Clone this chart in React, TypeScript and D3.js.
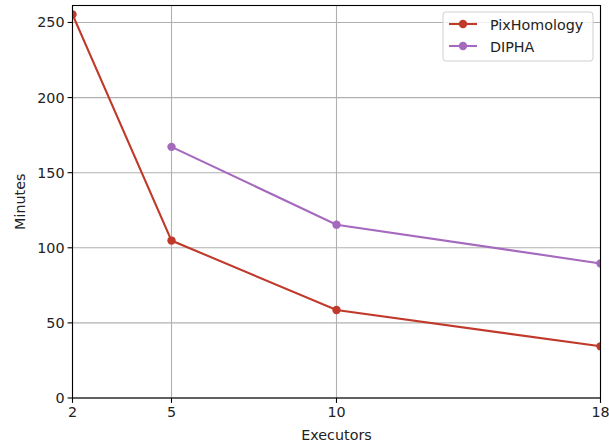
import React from "react";
import * as d3 from "d3";

const executors = [2, 5, 10, 18];
const pixHomology = [255.3, 104.8, 58.6, 34.4];
const diphaX = [5, 10, 18];
const dipha = [167.2, 115.4, 89.6];
const yTicks = [0, 50, 100, 150, 200, 250];
const seriesNames = ["PixHomology", "DIPHA"];
const colors = ["#c0392b", "#a569bd"];

const W = 609, H = 444;
const m = { left: 72.5, right: 600.5, top: 5.5, bottom: 398 };
const FONT = "DejaVu Sans, sans-serif";
const FS = 14.3;

export default function App() {
  const x = d3.scaleLinear().domain([2, 18]).range([m.left, m.right]);
  const y = d3.scaleLinear().domain([0, 261.3]).range([m.bottom, m.top]);
  const line = d3.line<[number, number]>().x(d => x(d[0])).y(d => y(d[1]));
  const s1: [number, number][] = executors.map((e, i) => [e, pixHomology[i]]);
  const s2: [number, number][] = diphaX.map((e, i) => [e, dipha[i]]);
  const series = [s1, s2];
  const lx = 443, ly = 12, lw = 150, lh = 49;
  return (
    <svg width={W} height={H} style={{ position: "absolute", left: 0, top: 0 }} fontFamily={FONT}>
      <defs>
        <clipPath id="clip">
          <rect x={m.left} y={m.top} width={m.right - m.left} height={m.bottom - m.top} />
        </clipPath>
      </defs>
      <rect x={0} y={0} width={W} height={H} fill="white" />
      {executors.map(t => (
        <line key={"gx" + t} x1={x(t)} x2={x(t)} y1={m.top} y2={m.bottom} stroke="#b0b0b0" strokeWidth={1.1} />
      ))}
      {yTicks.map(t => (
        <line key={"gy" + t} x1={m.left} x2={m.right} y1={y(t)} y2={y(t)} stroke="#b0b0b0" strokeWidth={1.1} />
      ))}
      <g clipPath="url(#clip)">
        {series.map((s, i) => (
          <g key={i}>
            <path d={line(s) || ""} fill="none" stroke={colors[i]} strokeWidth={2.08} />
            {s.map((p, j) => (
              <circle key={j} cx={x(p[0])} cy={y(p[1])} r={4.2} fill={colors[i]} />
            ))}
          </g>
        ))}
      </g>
      <rect x={m.left} y={m.top} width={m.right - m.left} height={m.bottom - m.top} fill="none" stroke="black" strokeWidth={1.1} />
      {executors.map(t => (
        <g key={"tx" + t}>
          <line x1={x(t)} x2={x(t)} y1={m.bottom} y2={m.bottom + 4.9} stroke="black" strokeWidth={1.1} />
          <text x={x(t)} y={m.bottom + 19} textAnchor="middle" fontSize={FS} fill="#222">{t}</text>
        </g>
      ))}
      {yTicks.map(t => (
        <g key={"ty" + t}>
          <line x1={m.left - 4.9} x2={m.left} y1={y(t)} y2={y(t)} stroke="black" strokeWidth={1.1} />
          <text x={m.left - 8} y={y(t) + 5} textAnchor="end" fontSize={FS} fill="#222">{t}</text>
        </g>
      ))}
      <text x={(m.left + m.right) / 2} y={440} textAnchor="middle" fontSize={FS} fill="#222">Executors</text>
      <text transform={`translate(25,${(m.top + m.bottom) / 2}) rotate(-90)`} textAnchor="middle" fontSize={FS} fill="#222">Minutes</text>
      <rect x={lx} y={ly} width={lw} height={lh} rx={3} fill="white" fillOpacity={0.8} stroke="#d0d0d0" strokeWidth={1} />
      {seriesNames.map((n, i) => (
        <g key={n}>
          <line x1={lx + 6} x2={lx + 34} y1={ly + 12 + i * 22} y2={ly + 12 + i * 22} stroke={colors[i]} strokeWidth={2.08} />
          <circle cx={lx + 20} cy={ly + 12 + i * 22} r={4.2} fill={colors[i]} />
          <text x={lx + 47} y={ly + 17.5 + i * 22} fontSize={FS} fill="#222">{n}</text>
        </g>
      ))}
    </svg>
  );
}
